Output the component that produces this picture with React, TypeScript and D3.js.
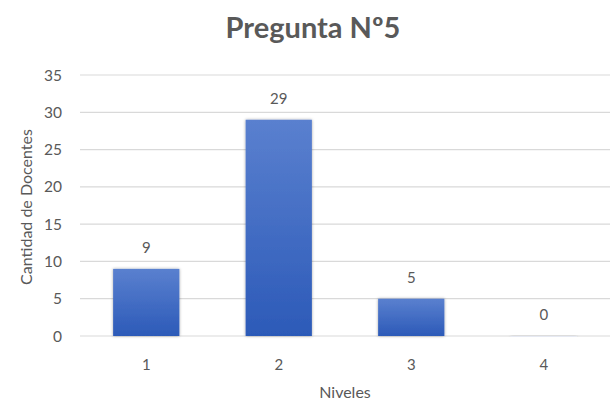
import React from "react";
import * as d3 from "d3";

const categories = ["1", "2", "3", "4"];
const values = [9, 29, 5, 0];
const yTicks = [0, 5, 10, 15, 20, 25, 30, 35];
const title = "Pregunta Nº5";
const xTitle = "Niveles";
const yTitle = "Cantidad de Docentes";

export default function App() {
  const W = 613, H = 403;
  const left = 80, right = 610, top = 75, bottom = 336;
  const x = d3.scaleBand<string>().domain(categories).range([left, right]).paddingInner(0.5).paddingOuter(0.25);
  const y = d3.scaleLinear().domain([0, 35]).range([bottom, top]);
  const font = "Lato, 'Open Sans', sans-serif";
  const grey = "#595959";
  return (
    <svg width={W} height={H} style={{ position: "absolute", left: 0, top: 0, background: "#fff" }}>
      <defs>
        <linearGradient id="barGrad" x1="0" y1="0" x2="0" y2="1">
          <stop offset="0%" stopColor="#5a80cf" />
          <stop offset="100%" stopColor="#2c5ab8" />
        </linearGradient>
        <filter id="shadow" x="-20%" y="-20%" width="140%" height="140%">
          <feDropShadow dx="0" dy="0" stdDeviation="1.5" floodColor="#000" floodOpacity="0.35" />
        </filter>
      </defs>
      <text x={313} y={38} textAnchor="middle" fontFamily={font} fontWeight="bold" fontSize={29} fill={grey}>{title}</text>
      {yTicks.map((t) => (
        <g key={t}>
          <line x1={left} x2={right} y1={y(t)} y2={y(t)} stroke="#d9d9d9" strokeWidth={1.2} />
          <text x={62} y={y(t) + 5.5} textAnchor="end" fontFamily={font} fontSize={15.5} fill={grey}>{t}</text>
        </g>
      ))}
      {categories.map((c, i) => (
        <g key={c}>
          <rect x={x(c)!} y={y(values[i])} width={x.bandwidth()} height={Math.max(bottom - y(values[i]), 0.8)} fill={values[i] > 0 ? "url(#barGrad)" : "#e8ecf5"} filter="url(#shadow)" />
          <text x={x(c)! + x.bandwidth() / 2} y={y(values[i]) - 16} textAnchor="middle" fontFamily={font} fontSize={15} fill={grey}>{values[i]}</text>
          <text x={x(c)! + x.bandwidth() / 2} y={370} textAnchor="middle" fontFamily={font} fontSize={15} fill={grey}>{c}</text>
        </g>
      ))}
      <text x={345} y={398} textAnchor="middle" fontFamily={font} fontSize={16} fill={grey}>{xTitle}</text>
      <text transform={`translate(32,207) rotate(-90)`} textAnchor="middle" fontFamily={font} fontSize={16} fill={grey}>{yTitle}</text>
    </svg>
  );
}
